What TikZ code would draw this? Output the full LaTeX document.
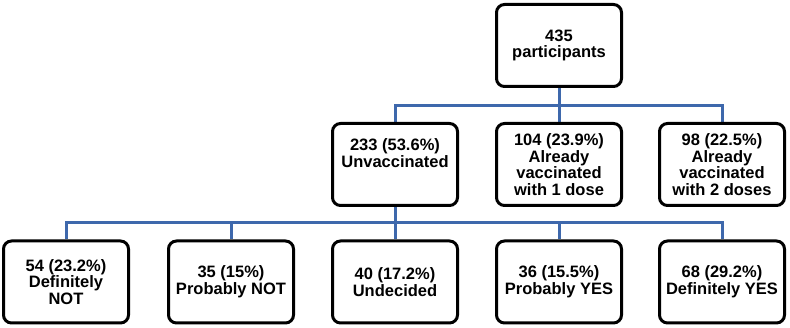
\documentclass[tikz,border=0pt]{standalone}
\usepackage{fontspec}
\setmainfont{Liberation Sans}
\usetikzlibrary{backgrounds}
\definecolor{connblue}{RGB}{62,104,172}
\tikzset{
  box/.style={draw=black, line width=3pt, rounded corners=8pt, fill=white,
    minimum width=125pt, minimum height=82pt, inner sep=0pt, align=center,
    font=\bfseries\fontsize{16.5}{16.7}\selectfont},
  conn/.style={draw=connblue, line width=3pt}
}
\begin{document}
\begin{tikzpicture}[x=1pt,y=-1pt]
\useasboundingbox (0,0) rectangle (790,328);
\node[box] (top) at (559,45.5) {435\\participants};
\node[box] (m1) at (395,164.5) {233 (53.6\%)\\Unvaccinated\\[6pt]\mbox{}};
\node[box] (m2) at (559,164.5) {104 (23.9\%)\\Already\\vaccinated\\with 1 dose};
\node[box] (m3) at (722,164.5) {98 (22.5\%)\\Already\\vaccinated\\with 2 doses};
\node[box] (b1) at (66,282) {54 (23.2\%)\\Definitely\\NOT};
\node[box] (b2) at (231,282) {35 (15\%)\\Probably NOT};
\node[box] (b3) at (395,282) {40 (17.2\%)\\Undecided};
\node[box] (b4) at (559,282) {36 (15.5\%)\\Probably YES};
\node[box] (b5) at (722,282) {68 (29.2\%)\\Definitely YES};
\coordinate (busA) at (559,106);
\coordinate (busB) at (395,223);
\begin{pgfonlayer}{background}
\draw[conn] (top.south) -- (busA);
\draw[conn] (busA) -| (m1.north);
\draw[conn] (busA) -| (m3.north);
\draw[conn] (busA) -- (m2.north);
\draw[conn] (m1.south) -- (busB);
\draw[conn] (busB) -| (b1.north);
\draw[conn] (busB) -| (b2.north);
\draw[conn] (busB) -- (b3.north);
\draw[conn] (busB) -| (b4.north);
\draw[conn] (busB) -| (b5.north);
\end{pgfonlayer}
\end{tikzpicture}
\end{document}
